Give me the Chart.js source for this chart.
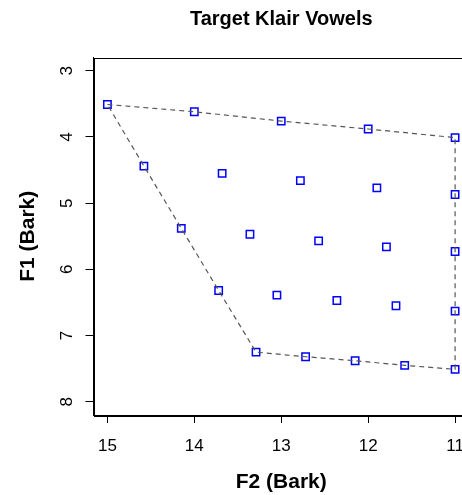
<!DOCTYPE html>
<html>
<head>
<meta charset="utf-8">
<script src="https://cdn.jsdelivr.net/npm/chart.js@4"></script>
<style>
  html, body { margin: 0; padding: 0; background: #fff; overflow: hidden; }
  #wrap { width: 462px; height: 495px; overflow: hidden; }
</style>
</head>
<body>
<div id="wrap"><canvas id="vowels" width="562" height="495"></canvas></div>
<script>
// target vowel grid, F2 / F1 in Bark
const vowelF2 = [15, 14, 13, 12, 11,
                 14.58, 13.68, 12.78, 11.90, 11,
                 14.15, 13.36, 12.57, 11.79, 11,
                 13.72, 13.05, 12.36, 11.68, 11,
                 13.29, 12.72, 12.15, 11.58, 11];
const vowelF1 = [3.51, 3.62, 3.76, 3.88, 4.01,
                 4.44, 4.55, 4.66, 4.77, 4.87,
                 5.38, 5.47, 5.57, 5.66, 5.73,
                 6.32, 6.39, 6.47, 6.55, 6.63,
                 7.25, 7.32, 7.38, 7.45, 7.51];

// dashed outline round the vowel space
const outlineF2 = [15, 14, 13, 12, 11, 11, 11, 11, 11, 11.58, 12.15, 12.72, 13.29, 13.72, 14.15, 14.58, 15];
const outlineF1 = [3.51, 3.62, 3.76, 3.88, 4.01, 4.87, 5.73, 6.63, 7.51, 7.45, 7.38, 7.32, 7.25, 6.32, 5.38, 4.44, 3.51];

const xTicks = [11, 12, 13, 14, 15];
const yTicks = [3, 4, 5, 6, 7, 8];
const chartTitle = 'Target Klair Vowels';

Chart.defaults.font.family = '"Liberation Sans", Arial, sans-serif';
Chart.defaults.color = '#000';

const toPoints = (xs, ys) => xs.map((x, i) => ({ x: x, y: ys[i] }));

// R style box round the plot region, title centred over it
const boxPlugin = {
    id: 'box',
    afterDraw(chart) {
        const a = chart.chartArea;
        const ctx = chart.ctx;
        ctx.save();
        ctx.strokeStyle = '#000';
        ctx.lineWidth = 1;
        ctx.strokeRect(Math.round(a.left) + 0.5, Math.round(a.top) + 0.5,
            Math.round(a.right - a.left), Math.round(a.bottom - a.top));
        ctx.fillStyle = '#000';
        ctx.font = 'bold 20px "Liberation Sans", Arial, sans-serif';
        ctx.textAlign = 'center';
        ctx.textBaseline = 'middle';
        ctx.fillText(chartTitle, (a.left + a.right) / 2, 19);
        ctx.restore();
    }
};

const ctx = document.getElementById('vowels').getContext('2d');
const mychart = new Chart(ctx, {
    type: 'scatter',
    data: {
        datasets: [
            {
                label: 'outline',
                data: toPoints(outlineF2, outlineF1),
                showLine: true,
                borderColor: '#555555',
                borderWidth: 1.2,
                borderDash: [5, 4],
                pointRadius: 0,
                tension: 0,
                fill: false
            },
            {
                label: 'vowels',
                data: toPoints(vowelF2, vowelF1),
                pointStyle: 'rect',
                pointRadius: 5.2,
                borderColor: '#0000ff',
                backgroundColor: 'rgba(0,0,0,0)',
                borderWidth: 1.5
            }
        ]
    },
    options: {
        responsive: false,
        animation: false,
        devicePixelRatio: 1,
        layout: {
            padding: { left: 0, right: 93, top: 57.5, bottom: 0 }
        },
        scales: {
            x: {
                type: 'linear',
                reverse: true,
                min: 10.84,
                max: 15.16,
                afterBuildTicks: (axis) => { axis.ticks = xTicks.map(v => ({ value: v })); },
                afterFit: (axis) => { axis.height = 80; },
                grid: { drawOnChartArea: false, drawTicks: true, tickLength: 8, color: '#000' },
                border: { display: true, color: '#000' },
                ticks: { padding: 13, font: { size: 17 } },
                title: {
                    display: true,
                    text: 'F2 (Bark)',
                    font: { size: 21, weight: 'bold' },
                    padding: { top: 0, bottom: 0 }
                }
            },
            y: {
                type: 'linear',
                reverse: true,
                min: 2.8,
                max: 8.2,
                afterBuildTicks: (axis) => { axis.ticks = yTicks.map(v => ({ value: v })); },
                afterFit: (axis) => { axis.width = 93.5; },
                grid: { drawOnChartArea: false, drawTicks: true, tickLength: 8, color: '#000' },
                border: { display: true, color: '#000' },
                ticks: { padding: 13, font: { size: 17 }, minRotation: 90, maxRotation: 90, crossAlign: 'center' },
                title: {
                    display: true,
                    text: 'F1 (Bark)',
                    font: { size: 21, weight: 'bold' },
                    padding: { top: 16, bottom: 0 }
                }
            }
        },
        plugins: {
            legend: { display: false },
            tooltip: { enabled: false },
            title: { display: false }
        }
    },
    plugins: [boxPlugin]
});
</script>
</body>
</html>
